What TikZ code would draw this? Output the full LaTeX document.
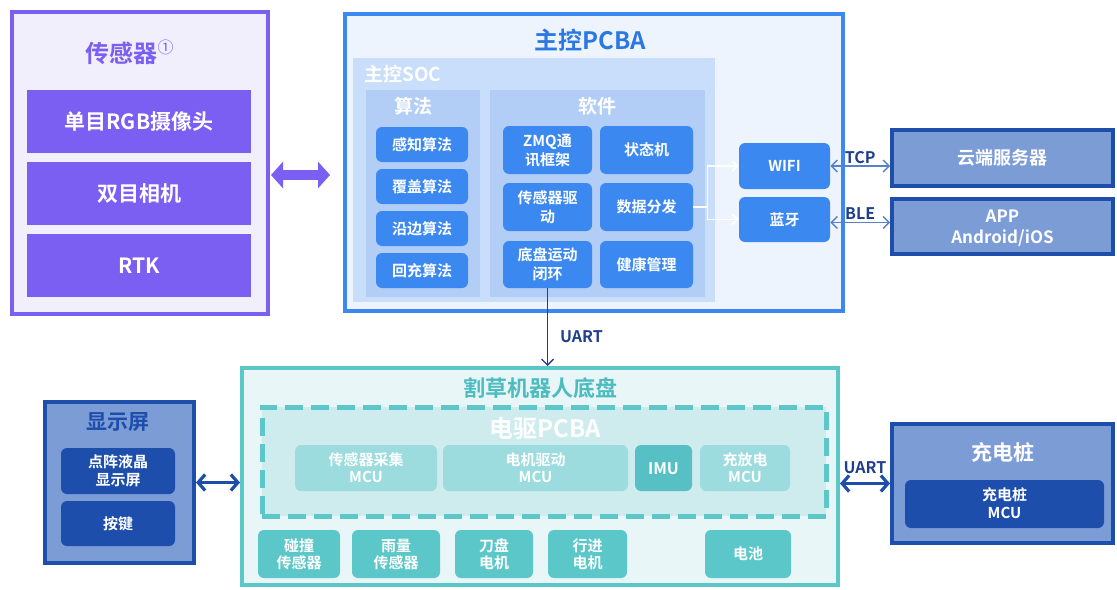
\documentclass[tikz,border=0pt]{standalone}
\usepackage{fontspec}
\setmainfont{Noto Sans CJK SC}[BoldFont={Noto Sans CJK SC Bold}]
\usetikzlibrary{fit,arrows.meta}
\definecolor{cPurple}{RGB}{123,94,242}
\definecolor{cLav}{RGB}{241,239,251}
\definecolor{cBlue}{RGB}{59,137,240}
\definecolor{cPcba}{RGB}{238,244,253}
\definecolor{cSoc}{RGB}{201,222,250}
\definecolor{cGrp}{RGB}{178,206,246}
\definecolor{cTitleBlue}{RGB}{44,120,226}
\definecolor{cNavy}{RGB}{30,78,172}
\definecolor{cMuted}{RGB}{124,156,214}
\definecolor{cTeal}{RGB}{92,199,201}
\definecolor{cChFill}{RGB}{233,246,247}
\definecolor{cDash}{RGB}{206,236,238}
\definecolor{cTealL}{RGB}{156,220,222}
\definecolor{cImu}{RGB}{86,192,196}
\definecolor{cTealTitle}{RGB}{76,188,193}
\definecolor{cArrow}{RGB}{32,62,142}
\definecolor{cThin}{RGB}{88,128,198}
% box node fitted to two corners, plus a centred label node
\newcommand\mkbox[6]{\node[#1, fit={(#3) (#4)}] (#2) {};\node[#5] (#2t) at (#2.center) {#6};}
\begin{document}
\begin{tikzpicture}[x=0.5pt,y=-0.5pt,
  box/.style={inner sep=0pt},
  tH/.style={text height=#1, text depth=0pt},
  txt/.style={inner sep=0pt, align=center, text=white},
  sensOuter/.style={box, draw=cPurple, fill=cLav, line width=2pt},
  sensBox/.style={box, fill=cPurple},
  sensTxt/.style={txt, font=\bfseries\fontsize{10.5}{12}\selectfont, tH=8pt},
  pcbaOuter/.style={box, draw=cBlue, fill=cPcba, line width=2pt},
  socBox/.style={box, fill=cSoc},
  grpBox/.style={box, fill=cGrp},
  blueBox/.style={box, fill=cBlue, rounded corners=3pt},
  blueTxt/.style={txt, font=\bfseries\fontsize{7.5}{9.5}\selectfont, tH=5.7pt},
  blueTxtB/.style={blueTxt, tH=15.2pt},
  extOuter/.style={box, draw=cNavy, fill=cMuted, line width=2pt},
  extTxt/.style={txt, font=\bfseries\fontsize{9}{10.5}\selectfont, tH=6.8pt},
  appTxt/.style={txt, font=\bfseries\fontsize{8.5}{10.5}\selectfont, tH=17pt},
  navyBox/.style={box, fill=cNavy, rounded corners=3pt},
  navyTxt/.style={txt, font=\bfseries\fontsize{7.5}{9}\selectfont, tH=5.7pt},
  navyTxtB/.style={navyTxt, tH=14.7pt},
  chOuter/.style={box, draw=cTeal, fill=cChFill, line width=2pt},
  dashBox/.style={box, draw=cTeal, fill=cDash, line width=2.5pt, dash pattern=on 9pt off 4pt},
  tealLBox/.style={box, fill=cTealL, rounded corners=3pt},
  tealBox/.style={box, fill=cTeal, rounded corners=3pt},
  imuBox/.style={box, fill=cImu, rounded corners=3pt},
  tealTxt/.style={txt, font=\bfseries\fontsize{7.5}{8.5}\selectfont, tH=5.7pt},
  tealTxtB/.style={tealTxt, tH=14.2pt},
  imuTxt/.style={txt, font=\bfseries\fontsize{8}{9}\selectfont, tH=6pt},
  lbl/.style={inner sep=0pt, text=cArrow, font=\bfseries\fontsize{8}{9}\selectfont},
  thinArrow/.style={draw=cThin, line width=0.7pt, {Straight Barb[length=3pt,width=6pt]}-{Straight Barb[length=3pt,width=6pt]}},
  thickArrow/.style={draw=cNavy, line width=1.6pt, {Straight Barb[length=3.5pt,width=8pt]}-{Straight Barb[length=3.5pt,width=8pt]}},
  dataLine/.style={draw=white, line width=0.8pt, -{Straight Barb[length=2.5pt,width=5pt]}}
]
\useasboundingbox[fill=white] (0,0) rectangle (1117,589);

% ---------- Sensors ----------
\node[sensOuter, fit={(12,12) (268,314)}] (sens) {};
\node[text=cPurple, font=\bfseries\fontsize{12}{14}\selectfont] (sensT) at (130,52) {传感器\textsuperscript{\mdseries ①}};
\mkbox{sensBox}{rgb}{27,90}{251,153}{sensTxt}{单目RGB摄像头}
\mkbox{sensBox}{stereo}{27,162}{251,225}{sensTxt}{双目相机}
\mkbox{sensBox}{rtk}{27,234}{251,297}{sensTxt}{RTK}

% ---------- Main PCBA ----------
\node[pcbaOuter, fit={(345,14) (843,311)}] (pcba) {};
\node[text=cTitleBlue, font=\bfseries\fontsize{12}{14}\selectfont] (pcbaT) at (590,40) {主控PCBA};
\node[socBox, fit={(353,58) (715,302)}] (soc) {};
\node[anchor=west, inner sep=0pt, text=white, font=\bfseries\fontsize{9.5}{11}\selectfont] (socT) at (364,74) {主控SOC};
\node[grpBox, fit={(366,90) (480,297)}] (alg) {};
\node[text=white, font=\bfseries\fontsize{9.5}{11}\selectfont] (algT) at (413,106) {算法};
\node[grpBox, fit={(490,90) (705,297)}] (sw) {};
\node[text=white, font=\bfseries\fontsize{9.5}{11}\selectfont] (swT) at (597,106) {软件};

\mkbox{blueBox}{a1}{376,127}{468,162}{blueTxt}{感知算法}
\mkbox{blueBox}{a2}{376,169}{468,204}{blueTxt}{覆盖算法}
\mkbox{blueBox}{a3}{376,211}{468,246}{blueTxt}{沿边算法}
\mkbox{blueBox}{a4}{376,253}{468,288}{blueTxt}{回充算法}

\mkbox{blueBox}{zmq}{503,126}{592,174}{blueTxtB}{ZMQ通\\讯框架}
\mkbox{blueBox}{fsm}{600,126}{693,174}{blueTxt}{状态机}
\mkbox{blueBox}{drv}{503,183}{592,231}{blueTxtB}{传感器驱\\动}
\mkbox{blueBox}{dist}{600,183}{693,231}{blueTxt}{数据分发}
\mkbox{blueBox}{loop}{503,241}{592,288}{blueTxtB}{底盘运动\\闭环}
\mkbox{blueBox}{health}{600,241}{693,288}{blueTxt}{健康管理}

\mkbox{blueBox}{wifi}{739,143}{830,189}{blueTxt}{WIFI}
\mkbox{blueBox}{bt}{739,197}{830,242}{blueTxt}{蓝牙}

\draw[dataLine] (dist.east) -- ++(14,0) |- (wifi.west);
\draw[dataLine] (dist.east) -- ++(14,0) |- (bt.west);

% ---------- External: cloud / app ----------
\mkbox{extOuter}{cloud}{892,130}{1113,186}{extTxt}{云端服务器}
\mkbox{extOuter}{app}{892,199}{1113,254}{appTxt}{APP\\Android/iOS}

\draw[thinArrow] (wifi.east) -- (wifi.east -| cloud.west) node[midway, above=1pt, lbl] (tcpL) {TCP};
\draw[thinArrow] ([yshift=-1.5pt]bt.east) -- ([yshift=-1.5pt]bt.east -| app.west) node[midway, above=1pt, lbl] (bleL) {BLE};

% ---------- Sensor <-> PCBA arrow ----------
\coordinate (sa) at (272,175);
\draw[cPurple, line width=5pt, {Triangle[length=6pt,width=13pt]}-{Triangle[length=6pt,width=13pt]}, shorten <=0.5pt, shorten >=6.5pt] (sens.east |- sa) -- (pcba.west |- sa);

% ---------- Chassis ----------
\node[chOuter, fit={(242,368) (838,585)}] (chassis) {};
\node[text=cTealTitle, font=\bfseries\fontsize{11}{13}\selectfont] (chT) at (540,388) {割草机器人底盘};
\node[dashBox, fit={(262,407) (826,516)}] (edrv) {};
\node[text=white, font=\bfseries\fontsize{12}{14}\selectfont] (edrvT) at (545,428) {电驱PCBA};

\mkbox{tealLBox}{m1}{295,445}{437,491}{tealTxtB}{传感器采集\\MCU}
\mkbox{tealLBox}{m2}{443,445}{628,491}{tealTxtB}{电机驱动\\MCU}
\mkbox{imuBox}{imu}{635,445}{692,491}{imuTxt}{IMU}
\mkbox{tealLBox}{m3}{700,445}{790,491}{tealTxtB}{充放电\\MCU}

\mkbox{tealBox}{b1}{258,530}{340,578}{tealTxtB}{碰撞\\传感器}
\mkbox{tealBox}{b2}{352,530}{440,578}{tealTxtB}{雨量\\传感器}
\mkbox{tealBox}{b3}{455,530}{533,578}{tealTxtB}{刀盘\\电机}
\mkbox{tealBox}{b4}{548,530}{627,578}{tealTxtB}{行进\\电机}
\mkbox{tealBox}{b5}{705,530}{791,578}{tealTxt}{电池}

\draw[draw=cArrow, line width=0.7pt, -{Straight Barb[length=3pt,width=6pt]}] (loop.south) -- (loop.south |- chassis.north) node[pos=0.62, right=6pt, lbl] (uartV) {UART};

% ---------- Display ----------
\node[extOuter, fit={(45,402) (194,563)}] (disp) {};
\node[text=cNavy, font=\bfseries\fontsize{10.5}{12}\selectfont] (dispT) at (118,422) {显示屏};
\mkbox{navyBox}{lcd}{61,448}{175,494}{navyTxtB}{点阵液晶\\显示屏}
\mkbox{navyBox}{key}{61,501}{175,546}{navyTxt}{按键}
\draw[thickArrow] (disp.east) -- (disp.east -| chassis.west);

% ---------- Charger ----------
\node[extOuter, fit={(892,424) (1113,543)}] (chg) {};
\node[text=white, font=\bfseries\fontsize{10.5}{12}\selectfont] (chgT) at (1003,452) {充电桩};
\mkbox{navyBox}{chgMcu}{905,480}{1104,528}{navyTxtB}{充电桩\\MCU}
\draw[thickArrow] (chg.west -| chassis.east) -- (chg.west) node[midway, above=4pt, lbl] (uartH) {UART};
\end{tikzpicture}
\end{document}
